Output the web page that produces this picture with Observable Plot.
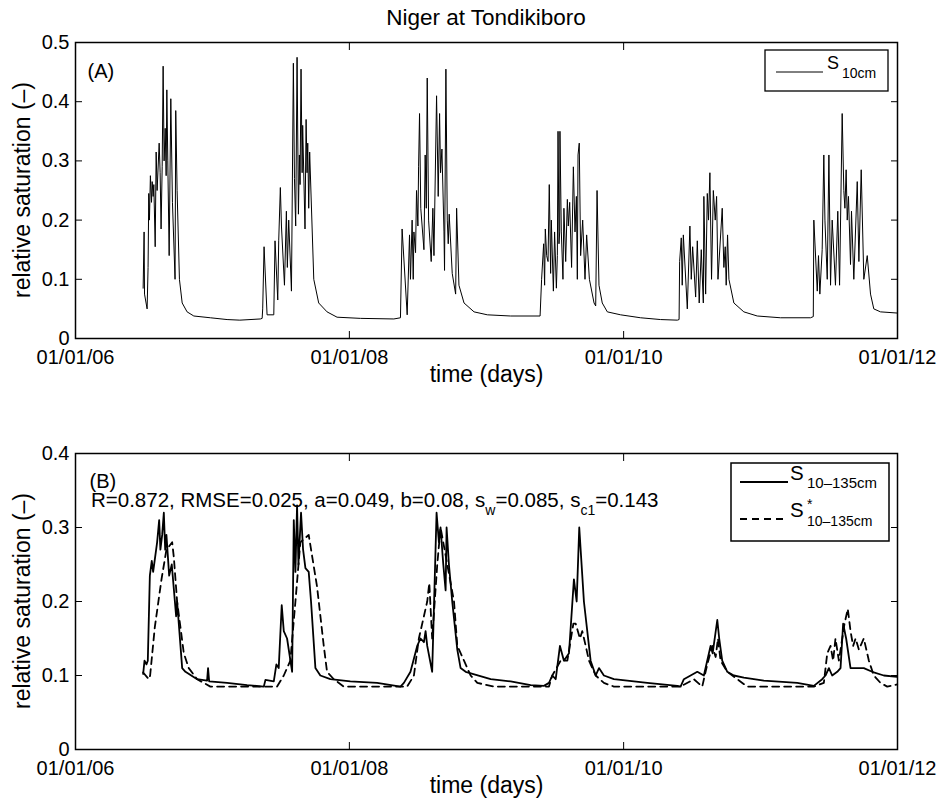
<!DOCTYPE html>
<html><head><meta charset="utf-8">
<script src="https://cdn.jsdelivr.net/npm/d3@7"></script>
<script src="https://cdn.jsdelivr.net/npm/@observablehq/plot@0.6"></script>
<style>
body{margin:0;background:#fff;font-family:"Liberation Sans",Arial,Helvetica,sans-serif;color:#000;}
#title{width:910px;margin-left:31px;height:30px;line-height:36px;font-size:22.5px;text-align:center;overflow:visible;}
svg{display:block;overflow:visible;}
</style></head><body>
<div id="title">Niger at Tondikiboro</div>
<div id="pa"></div>
<div id="pb"></div>
<script>
// ---------- DATA (decimal year, relative saturation) ----------
const s10T = [2006.494,2006.501,2006.504,2006.523,2006.530,2006.535,2006.540,2006.547,2006.555,2006.560,2006.567,2006.572,2006.582,2006.589,2006.596,2006.611,2006.618,2006.625,2006.633,2006.640,2006.647,2006.655,2006.662,2006.667,2006.674,2006.684,2006.696,2006.708,2006.727,2006.732,2006.742,2006.759,2006.779,2006.815,2006.864,2006.985,2007.107,2007.200,2007.350,
2007.363,2007.367,2007.377,2007.399,2007.448,2007.457,2007.477,2007.484,2007.496,2007.504,2007.526,2007.540,2007.547,2007.557,2007.577,2007.591,2007.599,2007.608,2007.618,2007.628,2007.635,2007.640,2007.647,2007.655,2007.659,2007.676,2007.684,2007.691,2007.696,2007.703,2007.710,2007.740,2007.776,2007.837,2007.910,2008.080,2008.324,2008.372,
2008.384,2008.421,2008.438,2008.445,2008.457,2008.465,2008.470,2008.482,2008.489,2008.499,2008.504,2008.511,2008.520,2008.543,2008.552,2008.560,2008.567,2008.577,2008.596,2008.608,2008.616,2008.635,2008.647,2008.657,2008.664,2008.674,2008.689,2008.693,2008.703,2008.713,2008.720,2008.727,2008.749,2008.774,2008.781,2008.798,2008.835,2008.908,2009.005,2009.175,2009.390,
2009.401,2009.416,2009.423,2009.428,2009.438,2009.448,2009.457,2009.467,2009.472,2009.487,2009.496,2009.509,2009.516,2009.521,2009.528,2009.533,2009.535,2009.545,2009.557,2009.564,2009.577,2009.589,2009.596,2009.606,2009.620,2009.633,2009.645,2009.655,2009.662,2009.667,2009.676,2009.686,2009.701,2009.718,2009.730,2009.750,2009.784,2009.796,2009.806,2009.820,2009.844,2009.881,2009.978,2010.124,2010.270,2010.392,
2010.405,2010.409,2010.421,2010.428,2010.436,2010.465,2010.484,2010.494,2010.504,2010.526,2010.538,2010.552,2010.567,2010.582,2010.586,2010.599,2010.611,2010.620,2010.630,2010.642,2010.655,2010.669,2010.679,2010.689,2010.720,2010.732,2010.742,2010.749,2010.759,2010.769,2010.805,2010.878,2010.976,2011.146,2011.365,
2011.385,2011.389,2011.414,2011.423,2011.433,2011.450,2011.462,2011.470,2011.487,2011.499,2011.511,2011.523,2011.547,2011.564,2011.577,2011.596,2011.608,2011.616,2011.625,2011.633,2011.642,2011.657,2011.664,2011.681,2011.706,2011.718,2011.735,2011.754,2011.779,2011.803,2011.827,2011.876,2011.998];
const s10V = [0.085,0.18,0.075,0.05,0.12,0.245,0.20,0.275,0.23,0.265,0.24,0.26,0.155,0.315,0.25,0.33,0.28,0.185,0.29,0.46,0.30,0.355,0.275,0.42,0.30,0.14,0.405,0.23,0.10,0.385,0.25,0.10,0.06,0.045,0.038,0.035,0.032,0.031,0.033,
0.034,0.05,0.155,0.04,0.04,0.165,0.065,0.165,0.255,0.19,0.09,0.215,0.12,0.20,0.08,0.465,0.27,0.19,0.475,0.21,0.31,0.26,0.455,0.28,0.36,0.185,0.37,0.28,0.33,0.22,0.315,0.10,0.06,0.045,0.036,0.034,0.033,0.035,
0.185,0.04,0.175,0.10,0.20,0.10,0.18,0.145,0.25,0.19,0.29,0.38,0.22,0.15,0.31,0.22,0.44,0.20,0.13,0.22,0.14,0.41,0.24,0.38,0.28,0.32,0.18,0.115,0.455,0.20,0.16,0.21,0.11,0.075,0.22,0.09,0.06,0.045,0.04,0.038,0.038,
0.10,0.16,0.09,0.185,0.14,0.13,0.26,0.11,0.20,0.08,0.18,0.085,0.14,0.35,0.16,0.18,0.35,0.18,0.10,0.22,0.13,0.235,0.19,0.23,0.12,0.29,0.18,0.24,0.10,0.31,0.33,0.14,0.20,0.10,0.175,0.10,0.06,0.055,0.25,0.09,0.06,0.045,0.04,0.035,0.032,0.031,
0.032,0.13,0.17,0.09,0.175,0.05,0.19,0.10,0.155,0.07,0.165,0.06,0.15,0.06,0.24,0.075,0.245,0.20,0.28,0.10,0.25,0.20,0.24,0.10,0.22,0.12,0.155,0.09,0.175,0.10,0.06,0.045,0.038,0.035,0.035,
0.037,0.20,0.08,0.14,0.075,0.15,0.31,0.20,0.10,0.31,0.09,0.20,0.09,0.215,0.09,0.38,0.25,0.22,0.285,0.20,0.24,0.125,0.215,0.10,0.265,0.13,0.285,0.10,0.14,0.075,0.05,0.045,0.043];

const sObsT = [2006.494,2006.504,2006.518,2006.528,2006.543,2006.557,2006.567,2006.596,2006.611,2006.620,2006.633,2006.645,2006.655,2006.664,2006.684,2006.703,2006.735,2006.742,2006.779,2006.803,2006.888,2006.961,2006.968,2006.976,2007.107,2007.253,2007.375,2007.387,2007.448,2007.467,2007.484,2007.506,2007.521,2007.545,2007.582,2007.594,2007.606,2007.618,2007.628,2007.647,2007.662,2007.679,2007.703,2007.720,2007.752,2007.788,2007.861,2008.007,2008.202,2008.372,2008.397,2008.445,2008.494,2008.518,2008.543,2008.555,2008.567,2008.603,2008.635,2008.652,2008.664,2008.684,2008.701,2008.708,2008.725,2008.749,2008.786,2008.810,2008.847,2009.029,2009.175,2009.321,2009.418,2009.455,2009.479,2009.504,2009.535,2009.564,2009.601,2009.637,2009.657,2009.676,2009.710,2009.759,2009.796,2009.820,2009.856,2009.929,2010.173,2010.392,2010.416,2010.440,2010.489,2010.538,2010.586,2010.635,2010.650,2010.684,2010.698,2010.720,2010.757,2010.805,2010.878,2011.024,2011.268,2011.389,2011.450,2011.474,2011.499,2011.523,2011.560,2011.584,2011.603,2011.625,2011.657,2011.754,2011.815,2011.900,2011.998];
const sObsV = [0.102,0.12,0.115,0.12,0.235,0.255,0.24,0.28,0.31,0.27,0.29,0.32,0.27,0.29,0.235,0.25,0.18,0.20,0.11,0.105,0.095,0.093,0.11,0.092,0.09,0.087,0.085,0.094,0.092,0.115,0.11,0.195,0.16,0.15,0.105,0.31,0.24,0.33,0.25,0.32,0.27,0.245,0.24,0.20,0.11,0.10,0.095,0.092,0.09,0.085,0.09,0.105,0.14,0.15,0.145,0.16,0.14,0.105,0.32,0.28,0.30,0.25,0.215,0.30,0.25,0.20,0.135,0.11,0.105,0.095,0.092,0.087,0.086,0.09,0.10,0.095,0.14,0.12,0.13,0.23,0.20,0.30,0.20,0.12,0.10,0.11,0.10,0.095,0.09,0.086,0.085,0.095,0.10,0.105,0.10,0.14,0.13,0.175,0.15,0.12,0.105,0.10,0.097,0.093,0.09,0.086,0.095,0.10,0.11,0.10,0.105,0.11,0.17,0.15,0.11,0.11,0.105,0.10,0.098];

const sModT = [2006.494,2006.535,2006.545,2006.579,2006.628,2006.664,2006.706,2006.718,2006.742,2006.791,2006.827,2006.888,2006.985,2007.472,2007.521,2007.569,2007.606,2007.642,2007.703,2007.764,2007.813,2007.837,2007.886,2007.959,2008.421,2008.470,2008.506,2008.567,2008.582,2008.603,2008.640,2008.664,2008.713,2008.762,2008.786,2008.835,2008.883,2008.932,2009.054,2009.455,2009.479,2009.540,2009.589,2009.633,2009.650,2009.681,2009.698,2009.723,2009.747,2009.796,2009.856,2009.929,2010.416,2010.513,2010.574,2010.611,2010.647,2010.672,2010.689,2010.708,2010.757,2010.830,2010.903,2011.389,2011.462,2011.487,2011.511,2011.530,2011.547,2011.572,2011.613,2011.637,2011.657,2011.676,2011.694,2011.718,2011.754,2011.791,2011.827,2011.876,2011.925,2011.998];
const sModV = [0.104,0.095,0.10,0.165,0.23,0.27,0.28,0.26,0.20,0.13,0.11,0.095,0.085,0.085,0.10,0.12,0.20,0.28,0.29,0.22,0.14,0.105,0.095,0.085,0.085,0.10,0.15,0.20,0.225,0.15,0.25,0.30,0.25,0.20,0.14,0.12,0.10,0.09,0.085,0.085,0.10,0.12,0.12,0.17,0.17,0.15,0.16,0.14,0.12,0.10,0.09,0.085,0.085,0.095,0.085,0.115,0.14,0.125,0.15,0.12,0.105,0.095,0.085,0.085,0.09,0.13,0.14,0.12,0.15,0.12,0.17,0.19,0.16,0.14,0.15,0.135,0.15,0.12,0.10,0.09,0.085,0.088];

const xTickLabels = ["2006-01-01","2008-01-01","2010-01-01","2012-01-01"];
const yTicksA = [0,0.1,0.2,0.3,0.4,0.5];
const yTicksB = [0,0.1,0.2,0.3,0.4];
const legendA = [{base:"S", sub:"10cm", sup:null, dash:null}];
const legendB = [{base:"S", sub:"10\u2013135cm", sup:null, dash:null},{base:"S", sub:"10\u2013135cm", sup:"*", dash:"7,5"}];
const statsParts = [["R=0.872, RMSE=0.025, a=0.049, b=0.08, s",false],["w",true],["=0.085, s",false],["c1",true],["=0.143",false]];
const yLabel = "relative saturation (\u2013)";
const xLabel = "time (days)";

// ---------- helpers ----------
const toDate = y => { const Y = Math.floor(y); const s = Date.UTC(Y,0,1), e = Date.UTC(Y+1,0,1); return new Date(s + (y - Y)*(e - s)); };
const rows = (T, V) => T.map((t,i) => ({date: toDate(t), value: V[i]}));
const xTicks = xTickLabels.map(s => new Date(s + "T00:00:00Z"));
const FONT = '"Liberation Sans",Arial,Helvetica,sans-serif';
const W = 941, ML = 75, MR = 44, R = W - MR;

function panel({height, marginTop, marginBottom, yMax, yTicks, lines, tag, tagDx, tagDy}) {
  const fmtY = d => d === 0 ? "0" : d3.format(".1f")(d);
  const marks = [
    Plot.axisY(yTicks, {anchor:"left", tickSize:0, tickPadding:6, tickFormat:fmtY, label:null, fontSize:20}),
    Plot.axisY(yTicks, {anchor:"left", tickSize:7, dx:7, fill:"none", label:null, strokeWidth:1}),
    Plot.axisY(yTicks, {anchor:"right", tickSize:7, dx:-7, fill:"none", label:null, strokeWidth:1}),
    Plot.axisX(xTicks, {anchor:"bottom", tickSize:0, tickPadding:11, tickFormat:d3.utcFormat("%m/%d/%y"), label:null, fontSize:20}),
    Plot.axisX(xTicks, {anchor:"bottom", tickSize:7, dy:-7, fill:"none", label:null, strokeWidth:1}),
    Plot.axisX(xTicks, {anchor:"top", tickSize:7, dy:7, fill:"none", label:null, strokeWidth:1}),
    ...lines,
    Plot.frame({stroke:"black", strokeWidth:1.5}),
    Plot.text([xLabel], {text:d=>d, frameAnchor:"bottom", dy:43, fontSize:23}),
    Plot.text([tag], {text:d=>d, frameAnchor:"top-left", dx:tagDx, dy:tagDy, textAnchor:"start", fontSize:20})
  ];
  const svg = Plot.plot({
    width: W, height, marginLeft: ML, marginRight: MR, marginTop, marginBottom,
    style: {fontFamily: FONT, fontSize: "20px", color: "black", background: "white", overflow: "visible"},
    x: {type:"utc", domain:[xTicks[0], xTicks[3]]},
    y: {domain:[0, yMax]},
    marks
  });
  // rotated y-axis title
  const cy = (marginTop + (height - marginBottom)) / 2;
  d3.select(svg).append("text").attr("transform", `translate(22,${cy}) rotate(-90)`)
    .attr("text-anchor", "middle").attr("dominant-baseline", "central")
    .attr("font-family", FONT).attr("font-size", 23).text(yLabel);
  return svg;
}

function legendRow(g, it, o) {
  g.append("line").attr("x1", o.lx1).attr("x2", o.lx2).attr("y1", o.ly).attr("y2", o.ly)
    .attr("stroke", "black").attr("stroke-width", o.sw).attr("stroke-dasharray", it.dash);
  g.append("text").attr("x", o.sx).attr("y", o.sy).attr("font-size", o.fs).attr("text-anchor", "start").text(it.base);
  if (it.sup) g.append("text").attr("x", o.subx).attr("y", o.supy).attr("font-size", o.fsub).attr("text-anchor", "start").text(it.sup);
  g.append("text").attr("x", o.subx).attr("y", o.suby).attr("font-size", o.fsub).attr("text-anchor", "start").text(it.sub);
}

// ---------- Panel A ----------
const topA = 12;
const svgA = panel({height: 400, marginTop: topA, marginBottom: 92, yMax: 0.5, yTicks: yTicksA, tag: "(A)", tagDx: 12, tagDy: 21,
  lines: [Plot.line(rows(s10T, s10V), {x:"date", y:"value", stroke:"black", strokeWidth:1})]});
document.getElementById("pa").appendChild(svgA);
{
  const g = d3.select(svgA).append("g").attr("font-family", FONT);
  g.append("rect").attr("x", R - 132).attr("y", topA + 8).attr("width", 123).attr("height", 41)
    .attr("fill", "white").attr("stroke", "black").attr("stroke-width", 1.3);
  legendRow(g, legendA[0], {lx1: R - 121, lx2: R - 74, ly: topA + 30, sw: 1,
    sx: R - 70, sy: topA + 27, fs: 18, subx: R - 55, suby: topA + 36, supy: 0, fsub: 14});
}

// ---------- Panel B ----------
const topB = 23;
const svgB = panel({height: 375, marginTop: topB, marginBottom: 56, yMax: 0.4, yTicks: yTicksB, tag: "(B)", tagDx: 14, tagDy: 20,
  lines: [
    Plot.line(rows(sObsT, sObsV), {x:"date", y:"value", stroke:"black", strokeWidth:1.8}),
    Plot.line(rows(sModT, sModV), {x:"date", y:"value", stroke:"black", strokeWidth:1.8, strokeDasharray:"7,5"})
  ]});
document.getElementById("pb").appendChild(svgB);
{
  const g = d3.select(svgB).append("g").attr("font-family", FONT);
  g.append("rect").attr("x", R - 166).attr("y", topB + 10).attr("width", 158).attr("height", 78)
    .attr("fill", "white").attr("stroke", "black").attr("stroke-width", 1.5);
  legendRow(g, legendB[0], {lx1: R - 157, lx2: R - 109, ly: topB + 29, sw: 1.8,
    sx: R - 107, sy: topB + 27, fs: 20.5, subx: R - 90, suby: topB + 35, supy: 0, fsub: 15});
  legendRow(g, legendB[1], {lx1: R - 157, lx2: R - 109, ly: topB + 66, sw: 1.8,
    sx: R - 107, sy: topB + 64, fs: 20.5, subx: R - 90, suby: topB + 73, supy: topB + 56, fsub: 14});
}

// stats text
const st = d3.select(svgB).append("text").attr("x", ML + 16).attr("y", topB + 54)
  .attr("font-family", FONT).attr("font-size", 20.5).attr("text-anchor", "start");
let inSub = false;
statsParts.forEach(([s, isSub]) => {
  const ts = st.append("tspan").text(s);
  if (isSub) ts.attr("font-size", 14).attr("dy", 8);
  else if (inSub) ts.attr("dy", -8);
  inSub = isSub;
});
</script>
</body></html>
